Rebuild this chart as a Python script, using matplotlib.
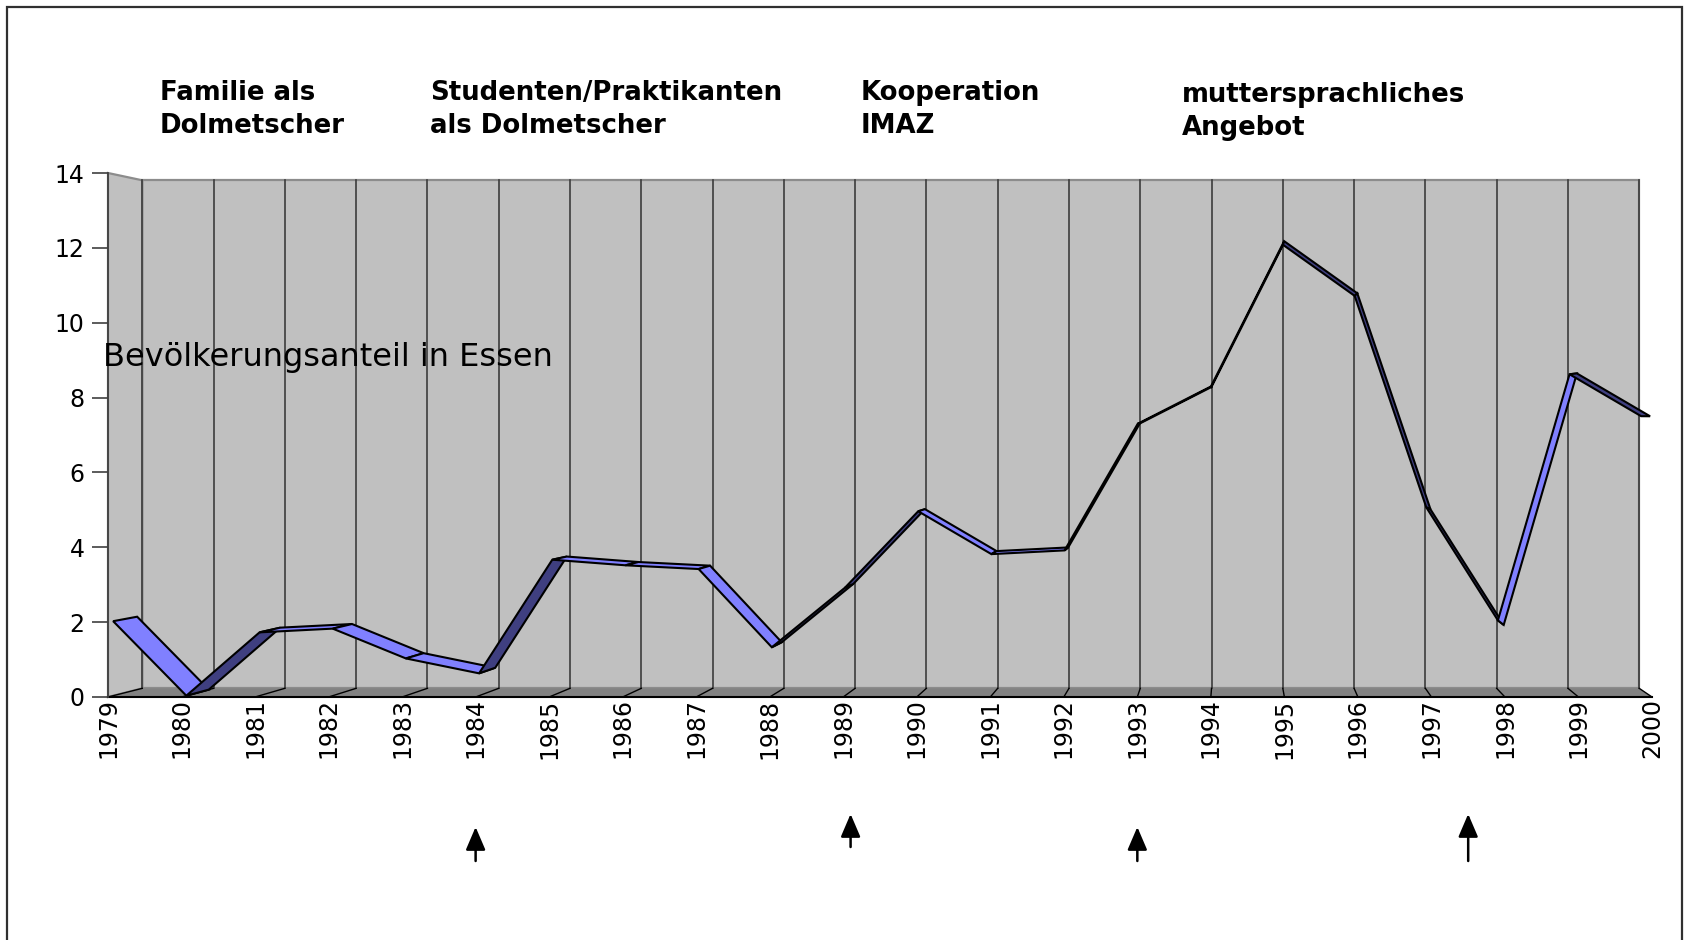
import numpy as np
import matplotlib.pyplot as plt
from matplotlib.patches import Polygon, Rectangle

# data
years = list(range(1979, 2001))
anteil = [2.0, 0.0, 1.7, 1.8, 1.0, 0.6, 3.65, 3.5, 3.4, 1.3, 2.9,
          4.95, 3.8, 3.9, 7.3, 8.3, 12.2, 10.8, 5.0, 1.9, 8.65, 7.5]
y_ticks = [0, 2, 4, 6, 8, 10, 12, 14]
phasen = [("Familie als", "Dolmetscher"),
          ("Studenten/Praktikanten", "als Dolmetscher"),
          ("Kooperation", "IMAZ"),
          ("muttersprachliches", "Angebot")]
pfeil_jahre = [1984, 1989.1, 1993, 1997.5]   # arrows under the axis
titel = "Bevölkerungsanteil in Essen"

# layout (figure pixels, from the top)
W, H = 1688, 940
phasen_x = [160, 430, 861, 1182]
phasen_y = [100, 100, 100, 102]
line_gap = 33

# fake 3d: depth pulls points toward a vanishing point (data units)
VX, VY = 15.3, 7.6
K = 0.0305
Z1, Z2 = 0.15, 0.85    # ribbon depth range


def deep(x, y, z):
    x = np.asarray(x, float)
    y = np.asarray(y, float)
    return x + z * K * (VX - x), y + z * K * (VY - y)


n = len(years)
xs = np.arange(n)
xmax = n - 1

fig = plt.figure(figsize=(W / 100, H / 100), dpi=100)
ax = fig.add_axes([108 / W, (H - 697) / H, 1544 / W, 524 / H])
ax.set_xlim(0, xmax)
ax.set_ylim(0, 14)
ax.patch.set_visible(False)

# walls
bx, by = deep([0, xmax, xmax, 0], [0, 0, 14, 14], 1)
ax.add_patch(Polygon(np.c_[bx, by], closed=True, fc="#c0c0c0", ec="#8c8c8c",
                     lw=1.6, zorder=0.5, clip_on=False))
sx, sy = deep([0, 0, 0, 0], [0, 0, 14, 14], np.array([0, 1, 1, 0]))
ax.add_patch(Polygon(np.c_[sx, sy], closed=True, fc="#c0c0c0", ec="#8c8c8c",
                     lw=1.6, zorder=0.6, clip_on=False))
fx, fy = deep([0, xmax, xmax, 0], [0, 0, 0, 0], np.array([0, 0, 1, 1]))
ax.add_patch(Polygon(np.c_[fx, fy], closed=True, fc="#828282", ec="none",
                     zorder=0.7, clip_on=False))

# category lines on the back wall and the floor
for i in xs:
    gx, gy = deep([i, i], [0, 14], 1)
    ax.plot(gx, gy, color="#3c3c3c", lw=1.2, zorder=0.8, clip_on=False)
    dx, dy = deep([i, i], [0, 0], np.array([0, 1]))
    ax.plot(dx, dy, color="black", lw=1.0, zorder=0.9, clip_on=False)

# the ribbon
vals = np.array(anteil)
for i in range(n - 1):
    x0, x1 = xs[i], xs[i + 1]
    y0, y1 = vals[i], vals[i + 1]
    ax0, ay0 = deep(x0, y0, Z1)
    ax1, ay1 = deep(x1, y1, Z1)
    bx1, by1 = deep(x1, y1, Z2)
    bx0, by0 = deep(x0, y0, Z2)
    px = np.array([ax0, ax1, bx1, bx0])
    py = np.array([ay0, ay1, by1, by0])
    area = np.sum(px * np.roll(py, -1) - np.roll(px, -1) * py)
    col = "#8080ff" if area > 0 else "#3f3f80"
    ax.add_patch(Polygon(np.c_[px, py], closed=True, fc=col, ec="black",
                         lw=1.5, joinstyle="miter", zorder=3, clip_on=False))

# axes
for s in ["top", "right"]:
    ax.spines[s].set_visible(False)
ax.spines["left"].set_color("#404040")
ax.spines["left"].set_linewidth(1.3)
ax.spines["bottom"].set_color("black")
ax.spines["bottom"].set_linewidth(1.5)
ax.spines["bottom"].set_zorder(2)

ax.set_yticks(y_ticks)
ax.tick_params(axis="y", length=11.5, width=1.2, color="#404040", pad=5.5,
               labelsize=17)
ax.set_xticks(xs)
ax.set_xticklabels([str(y) for y in years], rotation=90)
ax.tick_params(axis="x", length=0, pad=1, labelsize=17)

ax.text(103 / W, 1 - 366 / H, titel, transform=fig.transFigure,
        fontsize=23, va="baseline", ha="left", zorder=5)

for (l1, l2), px_, py_ in zip(phasen, phasen_x, phasen_y):
    fig.text(px_ / W, 1 - py_ / H, l1, fontsize=18.7, fontweight="bold",
             va="baseline", ha="left")
    fig.text(px_ / W, 1 - (py_ + line_gap) / H, l2, fontsize=18.7,
             fontweight="bold", va="baseline", ha="left")

# arrows
tips = [113, 126, 113, 126]
tails = [79, 93, 79, 79]
for jahr, tip, tail in zip(pfeil_jahre, tips, tails):
    ax.annotate("", xy=(jahr - years[0], tip), xytext=(jahr - years[0], tail),
                xycoords=("data", "figure pixels"),
                textcoords=("data", "figure pixels"),
                arrowprops=dict(arrowstyle="-|>,head_length=0.7,head_width=0.3",
                                lw=1.8, color="black", mutation_scale=20,
                                shrinkA=0, shrinkB=0))

# outer frame
fig.add_artist(Rectangle((7 / W, -0.05), (1682 - 7) / W, 1 - 7 / H + 0.05,
                         transform=fig.transFigure, fill=False,
                         ec="#303030", lw=1.6))

fig.savefig("out.png", dpi=100)
